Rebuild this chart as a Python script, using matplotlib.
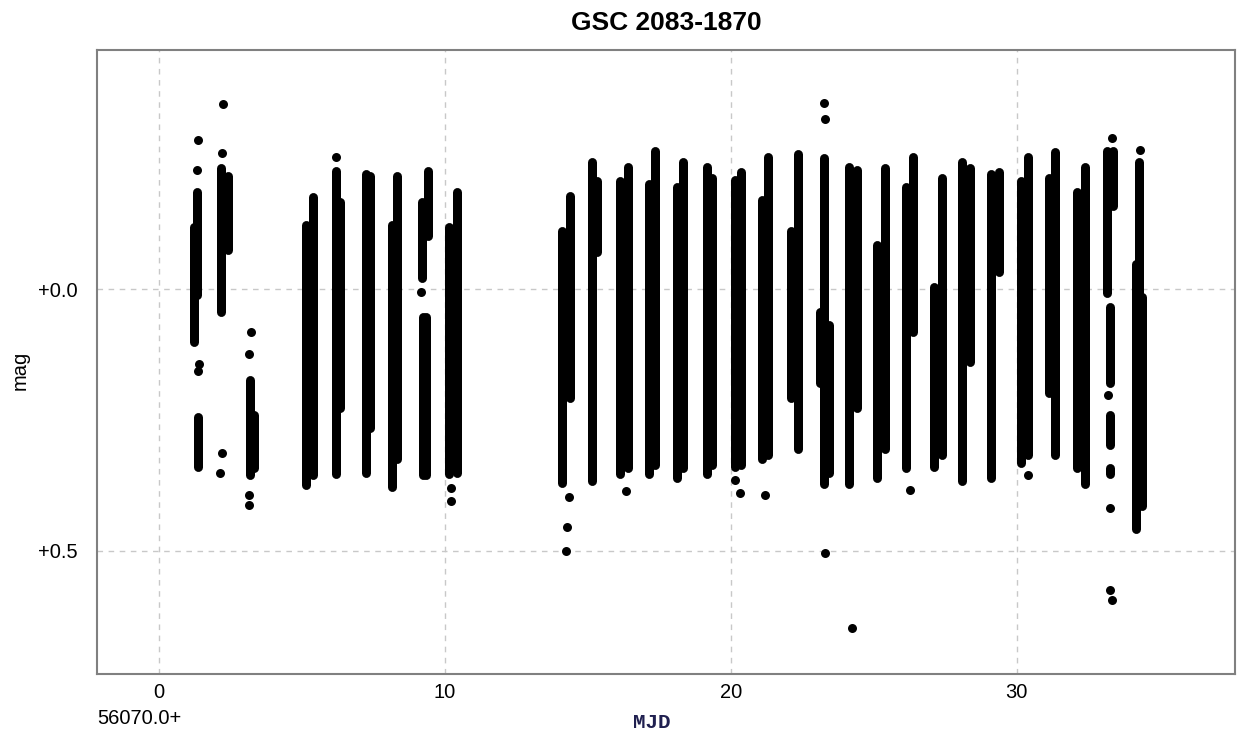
import matplotlib
matplotlib.use('Agg')
import numpy as np
import matplotlib.pyplot as plt

# each night of photometry is drawn as a few dense columns (t, brightest, faintest)
col_t = [1.232, 1.337, 1.354,
         2.176, 2.421,
         3.174, 3.310,
         5.150, 5.395,
         6.200, 6.340,
         7.250, 7.390,
         8.160, 8.334,
         9.192, 9.419, 9.210, 9.315,
         10.154, 10.434,
         14.108, 14.388,
         15.158, 15.332,
         16.137, 16.417,
         17.152, 17.362,
         18.132, 18.342,
         19.181, 19.356,
         20.161, 20.371,
         21.106, 21.316,
         22.120, 22.365,
         23.258, 23.118, 23.432,
         24.150, 24.430,
         25.130, 25.410,
         26.144, 26.389,
         27.124, 27.404,
         28.104, 28.384,
         29.118, 29.398,
         30.168, 30.413,
         31.148, 31.358,
         32.128, 32.408,
         33.178, 33.388, 33.265, 33.265, 33.265,
         34.278, 34.193, 34.403]
col_top = [-0.127, -0.195, 0.236,
           -0.241, -0.224,
           0.164, 0.231,
           -0.132, -0.184,
           -0.234, -0.176,
           -0.228, -0.224,
           -0.132, -0.224,
           -0.176, -0.234, 0.045, 0.045,
           -0.127, -0.195,
           -0.119, -0.186,
           -0.251, -0.215,
           -0.215, -0.243,
           -0.209, -0.272,
           -0.203, -0.251,
           -0.243, -0.222,
           -0.218, -0.232,
           -0.180, -0.262,
           -0.119, -0.266,
           -0.260, 0.034, 0.059,
           -0.243, -0.237,
           -0.094, -0.241,
           -0.203, -0.262,
           -0.012, -0.222,
           -0.251, -0.241,
           -0.228, -0.232,
           -0.215, -0.262,
           -0.222, -0.270,
           -0.195, -0.243,
           -0.272, -0.272, 0.026, 0.231, 0.332,
           -0.251, -0.056, 0.007]
col_bot = [0.110, 0.020, 0.349,
           0.053, -0.066,
           0.364, 0.351,
           0.383, 0.364,
           0.361, 0.236,
           0.359, 0.274,
           0.387, 0.332,
           -0.012, -0.094, 0.364, 0.364,
           0.361, 0.359,
           0.378, 0.217,
           0.374, -0.062,
           0.361, 0.351,
           0.361, 0.345,
           0.370, 0.351,
           0.361, 0.345,
           0.349, 0.345,
           0.332, 0.326,
           0.217, 0.313,
           0.380, 0.187, 0.359,
           0.380, 0.236,
           0.370, 0.313,
           0.351, 0.091,
           0.349, 0.326,
           0.374, 0.148,
           0.370, -0.024,
           0.340, 0.326,
           0.206, 0.326,
           0.351, 0.380,
           0.015, -0.151, 0.187, 0.307, 0.361,
           0.072, 0.466, 0.422]

# isolated measurements
pt_t = [1.36, 1.31, 1.39, 1.35,
        2.23, 2.19, 2.19, 2.12,
        3.21, 3.15, 3.14, 3.14,
        6.18, 9.16, 10.21, 10.21,
        14.34, 14.27, 14.23, 16.33,
        20.14, 20.32, 21.19,
        23.25, 23.29, 23.29, 24.24,
        26.27, 30.40,
        33.33, 33.19, 33.26, 33.26, 33.33,
        34.31]
pt_mag = [-0.285, -0.228, 0.143, 0.156,
          -0.354, -0.260, 0.313, 0.351,
          0.082, 0.123, 0.393, 0.412,
          -0.253, 0.005, 0.380, 0.405,
          0.397, 0.454, 0.500, 0.385,
          0.364, 0.389, 0.393,
          -0.356, -0.325, 0.504, 0.648,
          0.383, 0.355,
          -0.289, 0.202, 0.418, 0.575, 0.594,
          -0.266]

x_ticks = [0, 10, 20, 30]
y_ticks = [0.0, 0.5]
y_labels = ['+0.0', '+0.5']

xmin, xmax = -2.19, 37.64
ymin, ymax = -0.457, 0.735

W, H = 1238, 732
fig = plt.figure(figsize=(W / 100, H / 100), dpi=100)
ax_pos = [96.7 / W, 1 - 674 / H, (1235 - 96.7) / W, (674 - 50) / H]
ax = fig.add_axes(ax_pos)
ax.set_xlim(xmin, xmax)
ax.set_ylim(ymax, ymin)

dot_px = 9
lw = dot_px * 72 / 100
r = (dot_px / 2) * (ymax - ymin) / (ax_pos[3] * H)
ax.vlines(col_t, np.array(col_top) + r, np.array(col_bot) - r,
          colors='black', linewidth=lw, capstyle='round', zorder=3)
ax.scatter(pt_t, pt_mag, s=lw ** 2, c='black', linewidths=0, zorder=3)

ax.set_xticks(x_ticks)
ax.set_yticks(y_ticks)
ax.set_yticklabels(y_labels)
ax.grid(True, color='#c8c8c8', linestyle=(0, (4, 4)), linewidth=1)
ax.set_axisbelow(True)
for s in ax.spines.values():
    s.set_color('#808080')
    s.set_linewidth(1.5)
ax.tick_params(length=0, labelsize=14.5, colors='black')
ax.tick_params(axis='x', pad=6.5)
ax.tick_params(axis='y', pad=14)
for lab in ax.get_xticklabels() + ax.get_yticklabels():
    lab.set_fontfamily('Liberation Sans')

fig.text(666 / W, 1 - 23 / H, 'GSC 2083-1870', ha='center', va='center',
         fontsize=19, fontweight='bold', family='Liberation Sans')
fig.text(97 / W, 1 - 719 / H, '56070.0+', ha='left', va='center',
         fontsize=14.5, family='Liberation Sans')
fig.text(652 / W, 1 - 722 / H, 'MJD', ha='center', va='center',
         fontsize=15, fontweight='bold', family='Liberation Mono', color='#202050')
fig.text(20 / W, 1 - 370 / H, 'mag', ha='center', va='center', rotation=90,
         fontsize=14.5, family='Liberation Sans')

fig.savefig('out.png', dpi=100)
